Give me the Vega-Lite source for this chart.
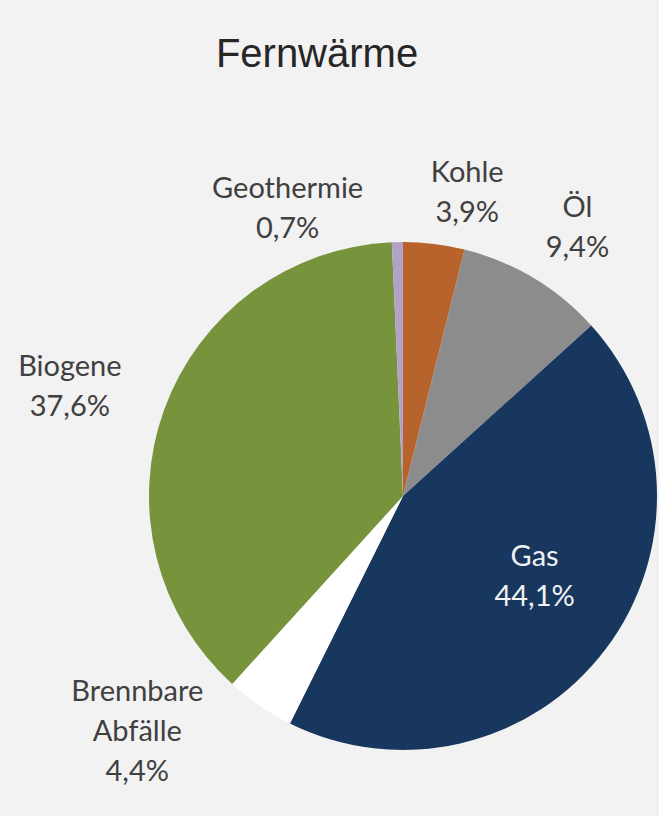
{
  "$schema": "https://vega.github.io/schema/vega-lite/v6.json",
  "autosize": "none",
  "bounds": "flush",
  "width": 512,
  "height": 640,
  "padding": {"left": 147, "top": 176, "right": 0, "bottom": 0},
  "background": "#f2f2f2",
  "config": {"view": {"stroke": null}},
  "title": {
    "text": "Fernwärme",
    "font": "Liberation Sans",
    "fontSize": 40,
    "fontWeight": "normal",
    "color": "#262626",
    "anchor": "middle",
    "frame": "group",
    "baseline": "alphabetic",
    "offset": 48,
    "dx": -86
  },
  "data": {
    "values": [
      {"ord": 1, "cat": "Kohle", "value": 3.9, "label": "Kohle\n3,9%"},
      {"ord": 2, "cat": "Öl", "value": 9.4, "label": "Öl\n9,4%"},
      {"ord": 3, "cat": "Gas", "value": 44.1, "label": "Gas\n44,1%"},
      {"ord": 4, "cat": "Brennbare Abfälle", "value": 4.4, "label": "Brennbare\nAbfälle\n4,4%"},
      {"ord": 5, "cat": "Biogene", "value": 37.6, "label": "Biogene\n37,6%"},
      {"ord": 6, "cat": "Geothermie", "value": 0.7, "label": "Geothermie\n0,7%"}
    ]
  },
  "encoding": {
    "theta": {"field": "value", "type": "quantitative", "stack": true},
    "order": {"field": "ord", "type": "quantitative"}
  },
  "layer": [
    {
      "mark": {"type": "arc", "outerRadius": 254},
      "encoding": {
        "color": {
          "field": "cat",
          "type": "nominal",
          "scale": {
            "domain": ["Kohle", "Öl", "Gas", "Brennbare Abfälle", "Biogene", "Geothermie"],
            "range": ["#b8632c", "#8c8c8c", "#17375e", "#ffffff", "#77933c", "#b3a2c7"]
          },
          "legend": null
        }
      }
    },
    {
      "mark": {"type": "text", "radius": 305, "dx": 27, "dy": -20, "font": "Lato", "fontSize": 29, "lineHeight": 40, "lineBreak": "\n", "color": "#404040", "align": "center", "baseline": "middle"},
      "encoding": {"text": {"condition": {"test": "datum.cat === 'Kohle'", "field": "label"}, "value": ""}}
    },
    {
      "mark": {"type": "text", "radius": 100, "dx": 123, "dy": -202, "font": "Lato", "fontSize": 29, "lineHeight": 40, "lineBreak": "\n", "color": "#404040", "align": "center", "baseline": "middle"},
      "encoding": {"text": {"condition": {"test": "datum.cat === 'Öl'", "field": "label"}, "value": ""}}
    },
    {
      "mark": {"type": "text", "radius": 150, "dx": 12, "dy": -30, "font": "Lato", "fontSize": 29, "lineHeight": 40, "lineBreak": "\n", "color": "#f2f2f2", "align": "center", "baseline": "middle"},
      "encoding": {"text": {"condition": {"test": "datum.cat === 'Gas'", "field": "label"}, "value": ""}}
    },
    {
      "mark": {"type": "text", "radius": 237, "dx": -132, "dy": 0, "font": "Lato", "fontSize": 29, "lineHeight": 40, "lineBreak": "\n", "color": "#404040", "align": "center", "baseline": "middle"},
      "encoding": {"text": {"condition": {"test": "datum.cat === 'Brennbare Abfälle'", "field": "label"}, "value": ""}}
    },
    {
      "mark": {"type": "text", "radius": 300, "dx": -51, "dy": -27, "font": "Lato", "fontSize": 29, "lineHeight": 40, "lineBreak": "\n", "color": "#404040", "align": "center", "baseline": "middle"},
      "encoding": {"text": {"condition": {"test": "datum.cat === 'Biogene'", "field": "label"}, "value": ""}}
    },
    {
      "mark": {"type": "text", "radius": 290, "dx": -109, "dy": -17, "font": "Lato", "fontSize": 29, "lineHeight": 40, "lineBreak": "\n", "color": "#404040", "align": "center", "baseline": "middle"},
      "encoding": {"text": {"condition": {"test": "datum.cat === 'Geothermie'", "field": "label"}, "value": ""}}
    }
  ]
}
